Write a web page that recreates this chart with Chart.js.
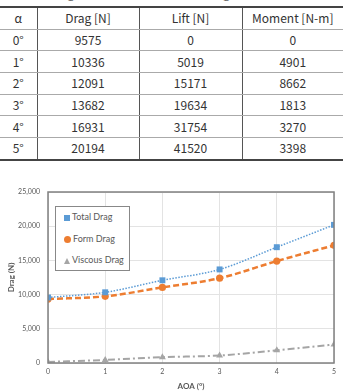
<!DOCTYPE html>
<html lang="en">
<head>
<meta charset="UTF-8">
<title>Drag vs AOA</title>
<script src="https://cdn.jsdelivr.net/npm/chart.js"></script>
<style>
  body { margin: 0; width: 343px; height: 391px; position: relative; overflow: hidden; background: #fff;
         font-family: "Noto Sans CJK KR", "Noto Sans", sans-serif; }
  #caption { position: absolute; top: -16px; left: 2px; font-size: 12px; color: #666; white-space: nowrap; }
  #tbl { position: absolute; top: 6px; left: 0; width: 343px; border-collapse: collapse; table-layout: fixed;
         font-size: 12px; color: #333; border-top: 2px solid #444; border-bottom: 2px solid #444; }
  #tbl td, #tbl th { height: 20.7px; padding: 0; text-align: center; font-weight: normal;
         border-bottom: 1px solid #aaa; border-left: 1.5px solid #555; line-height: 18px; }
  #tbl tr > :first-child { border-left: none; }
  #chart { position: absolute; left: 0; top: 178px; }
  #legend { position: absolute; left: 55px; top: 206px; width: 73px; height: 63px; border: 1px solid #888;
            background: #fff; font-family: Lato, "Open Sans", sans-serif; font-size: 9px; color: #595959; }
  #legend div { position: absolute; left: 8px; white-space: nowrap; }
  #legend span.m { display: inline-block; vertical-align: middle; margin-right: 2px; }
</style>
</head>
<body>
<div id="caption">Table 1. Drag, Lift and Moment according to AOA</div>
<table id="tbl">
  <colgroup><col style="width:37px"><col style="width:102px"><col style="width:103px"><col style="width:101px"></colgroup>
  <thead><tr><th>α</th><th>Drag [N]</th><th>Lift [N]</th><th>Moment [N-m]</th></tr></thead>
  <tbody id="rows"></tbody>
</table>
<canvas id="chart" width="343" height="213"></canvas>
<div id="legend"></div>
<script>
// table data
const angles = ['0°', '1°', '2°', '3°', '4°', '5°'];
const dragN = [9575, 10336, 12091, 13682, 16931, 20194];
const liftN = [0, 5019, 15171, 19634, 31754, 41520];
const momentNm = [0, 4901, 8662, 1813, 3270, 3398];

// chart data
const aoa = [0, 1, 2, 3, 4, 5];
const totalDrag = [9575, 10336, 12091, 13682, 16931, 20194];
const formDrag = [9350, 9750, 11050, 12400, 14900, 17200];
const viscousDrag = [150, 450, 850, 1100, 1850, 2700];
const yTicks = [0, 5000, 10000, 15000, 20000, 25000];

const tbody = document.getElementById('rows');
angles.forEach((a, i) => {
    const tr = document.createElement('tr');
    [a, dragN[i], liftN[i], momentNm[i]].forEach(v => {
        const td = document.createElement('td');
        td.textContent = v;
        tr.appendChild(td);
    });
    tbody.appendChild(tr);
});

const series = [
    { label: 'Total Drag', data: totalDrag, color: '#5B9BD5', style: 'rect', radius: 4.2, dash: [1.5, 1.5], width: 1.5 },
    { label: 'Form Drag', data: formDrag, color: '#ED7D31', style: 'circle', radius: 3.6, dash: [6, 3], width: 2.5 },
    { label: 'Viscous Drag', data: viscousDrag, color: '#A5A5A5', style: 'triangle', radius: 4, dash: [7, 3, 2, 3], width: 2 }
];

// legend sits inside the plot area, so build it as html
const legend = document.getElementById('legend');
series.forEach((s, i) => {
    const d = document.createElement('div');
    d.style.top = (4 + i * 21.5) + 'px';
    let m;
    if (s.style === 'rect') m = `<span class="m" style="width:6px;height:6px;background:${s.color}"></span>`;
    else if (s.style === 'circle') m = `<span class="m" style="width:7px;height:7px;border-radius:50%;background:${s.color}"></span>`;
    else m = `<span class="m" style="width:0;height:0;border-left:3.5px solid transparent;border-right:3.5px solid transparent;border-bottom:6px solid ${s.color}"></span>`;
    d.innerHTML = m + s.label;
    legend.appendChild(d);
});

// box around the plot area
const frame = {
    id: 'frame',
    afterDatasetsDraw(chart) {
        const { ctx, chartArea: a } = chart;
        ctx.save();
        ctx.strokeStyle = '#808080';
        ctx.lineWidth = 1.5;
        ctx.strokeRect(a.left, a.top, a.right - a.left, a.bottom - a.top);
        ctx.restore();
    }
};

new Chart(document.getElementById('chart'), {
    type: 'line',
    data: {
        datasets: series.map(s => ({
            label: s.label,
            data: aoa.map((x, i) => ({ x: x, y: s.data[i] })),
            borderColor: s.color,
            backgroundColor: s.color,
            borderWidth: s.width,
            borderDash: s.dash,
            pointStyle: s.style,
            pointRadius: s.radius,
            pointBorderWidth: 0,
            cubicInterpolationMode: 'monotone',
            fill: false
        }))
    },
    options: {
        responsive: false,
        animation: false,
        layout: { padding: { top: 14, right: 9, left: 0, bottom: 0 } },
        plugins: { legend: { display: false }, tooltip: { enabled: false } },
        scales: {
            x: {
                type: 'linear', min: 0, max: 5,
                ticks: { stepSize: 1, padding: 5, color: '#595959', font: { size: 7, family: 'Lato' } },
                grid: { color: '#e3e3e3', drawTicks: false },
                border: { display: false },
                title: { display: true, text: 'AOA (°)', color: '#595959', padding: 0,
                         font: { size: 8, weight: 'bold', family: 'Lato' } },
                afterFit(s) { s.height = 28; }
            },
            y: {
                min: 0, max: 25000,
                afterBuildTicks(s) { s.ticks = yTicks.map(v => ({ value: v })); },
                ticks: { padding: 8, color: '#595959', font: { size: 7, family: 'Lato' } },
                grid: { color: '#e3e3e3', drawTicks: false },
                border: { display: false },
                title: { display: true, text: 'Drag (N)', color: '#595959', padding: { top: 7, bottom: 0 },
                         font: { size: 8, weight: 'bold', family: 'Lato' } },
                afterFit(s) { s.width = 48; }
            }
        }
    },
    plugins: [frame]
});
</script>
</body>
</html>
